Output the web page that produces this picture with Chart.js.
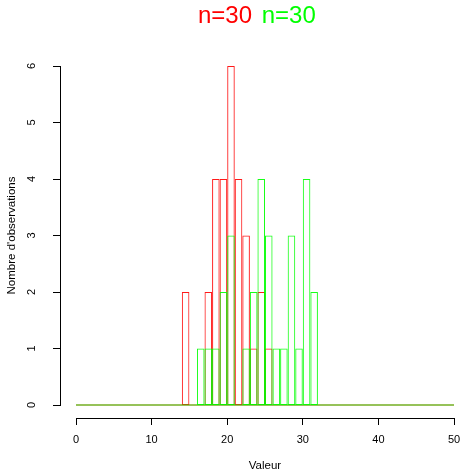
<!DOCTYPE html>
<html>
<head>
<meta charset="utf-8">
<script src="https://cdn.jsdelivr.net/npm/chart.js@4"></script>
<style>
  html, body { margin: 0; padding: 0; background: #fff; }
  #wrap { position: relative; width: 461px; height: 473px; }
  #title { position: absolute; left: 198px; top: 3px; font-family: "Liberation Sans", Arial, sans-serif; font-size: 24px; line-height: 24px; white-space: nowrap; }
  #title span + span { margin-left: 3px; }
</style>
</head>
<body>
<div id="wrap">
  <canvas id="histChart" width="461" height="473"></canvas>
  <div id="title"><span id="titleRed" style="color:#ff0000"></span> <span id="titleGreen" style="color:#00ff00"></span></div>
</div>
<script>
// bins of width 1, left edges
const binStarts   = [14, 15, 16, 17, 18, 19, 20, 21, 22, 23, 24, 25, 26, 27, 28, 29, 30, 31]
const redCounts   = [ 2,  0,  0,  2,  4,  4,  6,  4,  3,  1,  2,  1,  0,  0,  0,  0,  0,  0]
const greenCounts = [ 0,  0,  1,  1,  1,  2,  3,  0,  1,  2,  4,  3,  1,  1,  3,  1,  4,  2]

const xRange = [0, 50]
const yRange = [0, 6]
const titleRed = 'n=30'
const titleGreen = 'n=30'
const xLabel = 'Valeur'
const yLabel = "Nombre d'observations"

const redLine = 'rgba(255, 0, 0, 0.9)'
const greenLine = 'rgba(0, 255, 0, 0.9)'
const redBase = 'rgba(255, 0, 0, 0.55)'
const greenBase = 'rgba(0, 255, 0, 0.55)'

document.getElementById('titleRed').textContent = titleRed
document.getElementById('titleGreen').textContent = titleGreen

Chart.defaults.font.family = '"Liberation Sans", Arial, sans-serif'
Chart.defaults.color = '#000'

const toBars = (counts) => binStarts.map((b, i) => ({ x: b + 0.5, y: counts[i] }))
const baseline = xRange.map(v => ({ x: v, y: 0 }))

const barStyle = (color, order) => ({
  type: 'bar',
  backgroundColor: 'rgba(0,0,0,0)',
  borderColor: color,
  borderWidth: 1,
  borderSkipped: false,
  inflateAmount: 0,
  barPercentage: 1,
  categoryPercentage: 1,
  grouped: false,
  clip: false,
  order: order
})

const lineStyle = (color, order) => ({
  type: 'line',
  borderColor: color,
  borderWidth: 1.5,
  pointRadius: 0,
  clip: false,
  order: order
})

// fixed box sizes so the plot area lands where R put it
const fixBox = (w, h) => (s) => {
  if (w !== null) s.width = w
  if (h !== null) s.height = h
  s.paddingLeft = 0
  s.paddingRight = 0
  s.paddingTop = 0
  s.paddingBottom = 0
}

// scales: inner hidden axes only make the gap, outer ones are drawn
let scales_chart = {
  x: {
    type: 'linear', axis: 'x', position: 'bottom', weight: 0, offset: false,
    min: xRange[0], max: xRange[1],
    grid: { display: false, offset: false }, border: { display: false }, ticks: { display: false },
    afterFit: fixBox(null, 13)
  },
  xAxis: {
    type: 'linear', axis: 'x', position: 'bottom', weight: 1, offset: false,
    min: xRange[0], max: xRange[1],
    ticks: { stepSize: 10, padding: 8, maxRotation: 0, color: '#000', font: { size: 11 } },
    grid: { offset: false, drawOnChartArea: false, drawTicks: true, tickLength: 7, color: '#000', lineWidth: 1 },
    border: { display: true, color: '#000', width: 1 },
    title: { display: true, text: xLabel, color: '#000', font: { size: 11.5 }, padding: 0 },
    afterFit: fixBox(null, 55)
  },
  y: {
    type: 'linear', axis: 'y', position: 'left', weight: 0, offset: false,
    min: yRange[0], max: yRange[1],
    grid: { display: false }, border: { display: false }, ticks: { display: false },
    afterFit: fixBox(16, null)
  },
  yAxis: {
    type: 'linear', axis: 'y', position: 'left', weight: 1, offset: false,
    min: yRange[0], max: yRange[1],
    ticks: { stepSize: 1, minRotation: 90, maxRotation: 90, crossAlign: 'center', padding: 18, color: '#000', font: { size: 11 } },
    grid: { drawOnChartArea: false, drawTicks: true, tickLength: 7, color: '#000', lineWidth: 1 },
    border: { display: true, color: '#000', width: 1 },
    title: { display: true, text: yLabel, color: '#000', font: { size: 11.5 }, padding: { top: 5, bottom: 0 } },
    afterFit: fixBox(60, null)
  }
}

new Chart(document.getElementById('histChart').getContext('2d'), {
  type: 'bar',
  data: {
    datasets: [
      Object.assign({ data: baseline }, lineStyle(redBase, 4)),
      Object.assign({ data: toBars(redCounts) }, barStyle(redLine, 3)),
      Object.assign({ data: baseline }, lineStyle(greenBase, 2)),
      Object.assign({ data: toBars(greenCounts) }, barStyle(greenLine, 1))
    ]
  },
  options: {
    responsive: false,
    animation: false,
    layout: { padding: { top: 66, right: 7, left: 0, bottom: 0 } },
    plugins: { legend: { display: false }, tooltip: { enabled: false }, title: { display: false } },
    scales: scales_chart
  }
})
</script>
</body>
</html>
